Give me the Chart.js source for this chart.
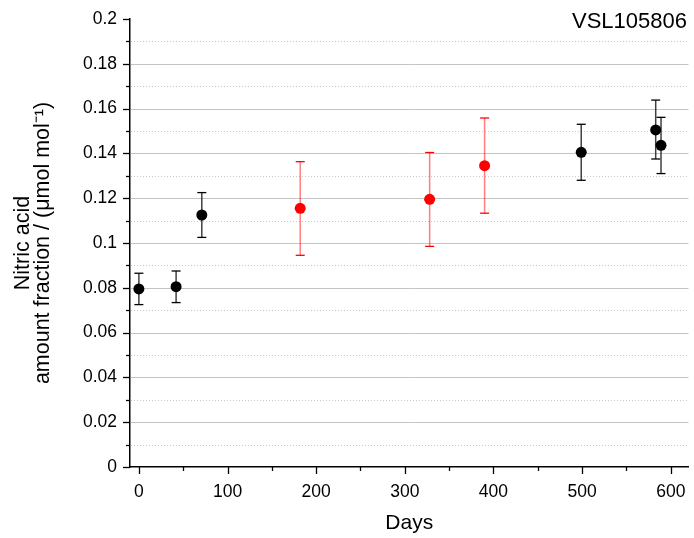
<!DOCTYPE html>
<html>
<head>
<meta charset="utf-8">
<script src="https://cdn.jsdelivr.net/npm/chart.js@4.4.0/dist/chart.umd.min.js"></script>
<style>
  html, body { margin: 0; padding: 0; background: #fff; }
  #wrap { width: 694px; height: 538px; }
</style>
</head>
<body>
<div id="wrap"><canvas id="chart" width="694" height="538"></canvas></div>
<script>
// values (days, amount fraction, error bar ends)
const blackDays = [0, 42, 71, 499, 583, 589];
const blackValues = [0.0795, 0.0805, 0.1125, 0.1405, 0.1505, 0.1436];
const blackLow = [0.0725, 0.0734, 0.1025, 0.1280, 0.1375, 0.1310];
const blackHigh = [0.0865, 0.0875, 0.1225, 0.1530, 0.1638, 0.1561];

const redDays = [182, 328, 390];
const redValues = [0.1155, 0.1195, 0.1345];
const redLow = [0.0945, 0.0985, 0.1133];
const redHigh = [0.1363, 0.1404, 0.1558];

const xMajorTicks = [0, 100, 200, 300, 400, 500, 600];
const xMinorTicks = [50, 150, 250, 350, 450, 550];
const yMajorTicks = [0, 0.02, 0.04, 0.06, 0.08, 0.1, 0.12, 0.14, 0.16, 0.18, 0.2];
const yTickLabels = ["0", "0.02", "0.04", "0.06", "0.08", "0.1", "0.12", "0.14", "0.16", "0.18", "0.2"];
const yMinorTicks = [0.01, 0.03, 0.05, 0.07, 0.09, 0.11, 0.13, 0.15, 0.17, 0.19];

const FONT = "'Liberation Sans', Arial, sans-serif";

function line(ctx, x1, y1, x2, y2) {
    ctx.beginPath();
    ctx.moveTo(x1, y1);
    ctx.lineTo(x2, y2);
    ctx.stroke();
}

function drawErrorBars(ctx, x, y, days, low, high, stemColor, capColor) {
    days.forEach((d, i) => {
        const px = x.getPixelForValue(d);
        const top = y.getPixelForValue(high[i]);
        const bottom = y.getPixelForValue(low[i]);
        ctx.lineWidth = 1.5;
        ctx.strokeStyle = stemColor;
        line(ctx, px, top, px, bottom);
        ctx.strokeStyle = capColor;
        ctx.lineWidth = 1.3;
        line(ctx, px - 4.5, top, px + 4.5, top);
        line(ctx, px - 4.5, bottom, px + 4.5, bottom);
    });
}

// grid lines, minor ticks and error bars
const decor = {
    id: "decor",
    beforeDatasetsDraw(chart) {
        const { ctx, chartArea: a, scales: { x, y } } = chart;
        ctx.save();

        ctx.lineWidth = 1;
        ctx.strokeStyle = "#c9c9c9";
        ctx.setLineDash([1, 2]);
        yMinorTicks.forEach((v) => {
            const py = Math.round(y.getPixelForValue(v)) + 0.5;
            line(ctx, a.left + 1, py, a.right, py);
        });
        ctx.setLineDash([]);
        ctx.strokeStyle = "#c4c4c4";
        yMajorTicks.forEach((v) => {
            if (v <= 0 || v >= 0.2) return;
            const py = Math.round(y.getPixelForValue(v)) + 0.5;
            line(ctx, a.left + 1, py, a.right, py);
        });

        // tick marks, outward
        ctx.strokeStyle = "#000";
        ctx.lineWidth = 1.3;
        yMajorTicks.forEach((v) => {
            const py = Math.round(y.getPixelForValue(v)) + 0.5;
            line(ctx, a.left - 7, py, a.left, py);
        });
        yMinorTicks.forEach((v) => {
            const py = Math.round(y.getPixelForValue(v)) + 0.5;
            line(ctx, a.left - 4, py, a.left, py);
        });
        xMajorTicks.forEach((v) => {
            const px = Math.round(x.getPixelForValue(v)) + 0.5;
            line(ctx, px, a.bottom, px, a.bottom + 7);
        });
        xMinorTicks.forEach((v) => {
            const px = Math.round(x.getPixelForValue(v)) + 0.5;
            line(ctx, px, a.bottom, px, a.bottom + 4);
        });

        drawErrorBars(ctx, x, y, blackDays, blackLow, blackHigh, "rgba(0,0,0,0.75)", "#000");
        drawErrorBars(ctx, x, y, redDays, redLow, redHigh, "rgba(255,0,0,0.5)", "#ff0000");
        ctx.restore();
    },
    afterDraw(chart) {
        const { ctx } = chart;
        ctx.save();
        ctx.font = "22px " + FONT;
        ctx.fillStyle = "#000";
        ctx.textAlign = "right";
        ctx.textBaseline = "middle";
        ctx.fillText("VSL105806", 687, 22);
        ctx.restore();
    },
};

const ctx = document.getElementById("chart").getContext("2d");

new Chart(ctx, {
    type: "scatter",
    data: {
        datasets: [
            {
                label: "VSL105806",
                data: blackDays.map((d, i) => ({ x: d, y: blackValues[i] })),
                backgroundColor: "#000",
                borderWidth: 0,
                pointRadius: 5.5,
                pointHoverRadius: 5.5,
            },
            {
                label: "VSL105806 (red)",
                data: redDays.map((d, i) => ({ x: d, y: redValues[i] })),
                backgroundColor: "#ff0000",
                borderWidth: 0,
                pointRadius: 5.5,
                pointHoverRadius: 5.5,
            },
        ],
    },
    options: {
        responsive: false,
        animation: false,
        devicePixelRatio: 1,
        layout: { padding: { top: 19, right: 4, left: 0, bottom: 0 } },
        plugins: {
            legend: { display: false },
            tooltip: { enabled: false },
        },
        scales: {
            x: {
                type: "linear",
                min: -10,
                max: 620,
                afterBuildTicks: (s) => { s.ticks = xMajorTicks.map((v) => ({ value: v })); },
                afterFit: (s) => {
                    s.height = 71;
                    s.paddingLeft = 0;
                    s.paddingRight = 0;
                },
                ticks: {
                    autoSkip: false,
                    maxRotation: 0,
                    padding: 15,
                    color: "#000",
                    font: { family: FONT, size: 17.5 },
                },
                grid: { drawOnChartArea: false, drawTicks: false },
                border: { color: "#000", width: 1.5 },
                title: {
                    display: true,
                    text: "Days",
                    color: "#000",
                    font: { family: FONT, size: 21 },
                    padding: { top: 0, bottom: 2 },
                },
            },
            y: {
                type: "linear",
                min: 0,
                max: 0.2,
                afterBuildTicks: (s) => { s.ticks = yMajorTicks.map((v) => ({ value: v })); },
                afterFit: (s) => {
                    s.width = 130;
                    s.paddingTop = 0;
                    s.paddingBottom = 0;
                },
                ticks: {
                    autoSkip: false,
                    padding: 13,
                    color: "#000",
                    font: { family: FONT, size: 17.5 },
                    callback: (value, index) => yTickLabels[index],
                },
                grid: { drawOnChartArea: false, drawTicks: false },
                border: { color: "#000", width: 1.5 },
                title: {
                    display: true,
                    text: ["Nitric acid", "amount fraction / (\u03bcmol mol\u207b\u00b9)"],
                    color: "#000",
                    font: { family: FONT, size: 21.5, lineHeight: 0.93 },
                    padding: { top: 13, bottom: 0 },
                },
            },
        },
    },
    plugins: [decor],
});
</script>
</body>
</html>
